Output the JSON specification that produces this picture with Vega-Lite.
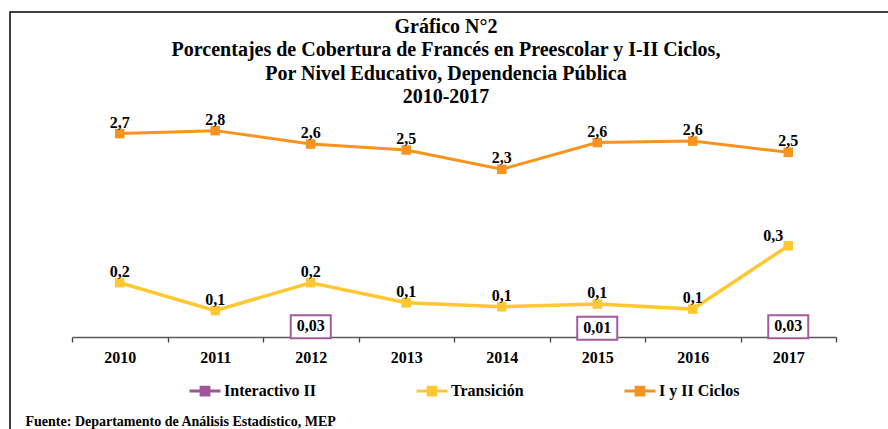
{
  "$schema": "https://vega.github.io/schema/vega-lite/v6.json",
  "autosize": "none",
  "width": 879,
  "height": 418,
  "padding": {"left": 10, "top": 12, "right": 0, "bottom": 0},
  "background": "white",
  "title": {
    "text": ["Gráfico N°2", "Porcentajes de Cobertura de Francés en Preescolar y I-II  Ciclos,", "Por Nivel Educativo, Dependencia Pública", "2010-2017"],
    "anchor": "middle",
    "frame": "group",
    "offset": -95,
    "dx": -3.5,
    "font": "Liberation Serif",
    "fontSize": 20,
    "fontWeight": "bold",
    "lineHeight": 23.3,
    "color": "black"
  },
  "data": {
    "values": [
      {"year": 2010, "serie": "I y II Ciclos", "value": 2.73},
      {"year": 2011, "serie": "I y II Ciclos", "value": 2.77},
      {"year": 2012, "serie": "I y II Ciclos", "value": 2.59},
      {"year": 2013, "serie": "I y II Ciclos", "value": 2.51},
      {"year": 2014, "serie": "I y II Ciclos", "value": 2.251},
      {"year": 2015, "serie": "I y II Ciclos", "value": 2.61},
      {"year": 2016, "serie": "I y II Ciclos", "value": 2.63},
      {"year": 2017, "serie": "I y II Ciclos", "value": 2.48},
      {"year": 2010, "serie": "Transición", "value": 0.181},
      {"year": 2011, "serie": "Transición", "value": 0.088},
      {"year": 2012, "serie": "Transición", "value": 0.181},
      {"year": 2013, "serie": "Transición", "value": 0.114},
      {"year": 2014, "serie": "Transición", "value": 0.101},
      {"year": 2015, "serie": "Transición", "value": 0.11},
      {"year": 2016, "serie": "Transición", "value": 0.093},
      {"year": 2017, "serie": "Transición", "value": 0.304},
      {"year": 2012, "serie": "Interactivo II", "value": 0.03},
      {"year": 2015, "serie": "Interactivo II", "value": 0.01},
      {"year": 2017, "serie": "Interactivo II", "value": 0.03}
    ]
  },
  "encoding": {
    "x": {
      "field": "year",
      "type": "ordinal",
      "scale": {"type": "band", "range": [62, 826], "paddingInner": 0, "paddingOuter": 0},
      "axis": {
        "title": "Fuente: Departamento de Análisis Estadístico, MEP",
        "titleX": 15,
        "titleY": 88,
        "titleAlign": "left",
        "titleAnchor": "start",
        "titleBaseline": "alphabetic",
        "titleFont": "Liberation Serif",
        "titleFontSize": 14,
        "titleFontWeight": "bold",
        "titleColor": "black",
        "labelAngle": 0,
        "labelFont": "Liberation Serif",
        "labelFontSize": 16,
        "labelFontWeight": "bold",
        "labelColor": "black",
        "labelPadding": 7,
        "tickBand": "extent",
        "tickSize": 5,
        "tickColor": "#404040",
        "tickWidth": 1.3,
        "domainColor": "#595959",
        "domainWidth": 1.5,
        "offset": -93,
        "grid": false,
        "encode": {"ticks": {"update": {"y": {"value": -5}, "y2": {"value": 5}}}}
      }
    }
  },
  "layer": [
    {
      "transform": [{"filter": "datum.serie === 'I y II Ciclos'"}],
      "encoding": {
        "y": {"field": "value", "type": "quantitative", "scale": {"domain": [0, 3], "range": [325, 101.5]}, "axis": null}
      },
      "layer": [
        {
          "mark": {"type": "line", "strokeWidth": 3, "point": {"shape": "square", "size": 90, "filled": true, "opacity": 1}},
          "encoding": {
            "color": {
              "field": "serie",
              "type": "nominal",
              "scale": {"domain": ["Interactivo II", "Transición", "I y II Ciclos"], "range": ["#A0559B", "#FFC832", "#F7931E"]},
              "legend": {
                "orient": "none",
                "legendX": 178,
                "legendY": 362,
                "direction": "horizontal",
                "columns": 3,
                "title": null,
                "symbolType": "M-1,0H1M-0.25,-0.25H0.25V0.25H-0.25Z",
                "symbolSize": 961,
                "symbolStrokeWidth": 3,
                "symbolOffset": 0,
                "labelOffset": 2,
                "columnPadding": 94,
                "labelFont": "Liberation Serif",
                "labelFontSize": 16,
                "labelFontWeight": "bold",
                "labelColor": "black",
                "padding": 0,
                "encode": {"symbols": {"update": {"fill": {"scale": "color", "field": "value"}, "stroke": {"scale": "color", "field": "value"}, "opacity": {"value": 1}}}}
              }
            }
          }
        },
        {
          "mark": {"type": "text", "dy": -6, "baseline": "alphabetic", "font": "Liberation Serif", "fontSize": 16, "fontWeight": "bold", "color": "black"},
          "encoding": {"text": {"field": "value", "type": "quantitative", "format": ".1f"}}
        }
      ]
    },
    {
      "transform": [{"filter": "datum.serie === 'Transición'"}],
      "encoding": {
        "y": {"field": "value", "type": "quantitative", "scale": {"domain": [0, 1], "range": [325, 25]}, "axis": null}
      },
      "layer": [
        {
          "mark": {"type": "line", "strokeWidth": 3.5, "point": {"shape": "square", "size": 90, "filled": true, "opacity": 1}},
          "encoding": {"color": {"field": "serie", "type": "nominal"}}
        },
        {
          "transform": [{"filter": "datum.year != 2017"}],
          "mark": {"type": "text", "dy": -6, "baseline": "alphabetic", "font": "Liberation Serif", "fontSize": 16, "fontWeight": "bold", "color": "black"},
          "encoding": {"text": {"field": "value", "type": "quantitative", "format": ".1f"}}
        },
        {
          "transform": [{"filter": "datum.year == 2017"}],
          "mark": {"type": "text", "dy": -5, "dx": -15, "baseline": "alphabetic", "font": "Liberation Serif", "fontSize": 16, "fontWeight": "bold", "color": "black"},
          "encoding": {"text": {"field": "value", "type": "quantitative", "format": ".1f"}}
        }
      ]
    },
    {
      "transform": [{"filter": "datum.serie === 'Interactivo II'"}],
      "encoding": {
        "y": {"field": "value", "type": "quantitative", "scale": {"domain": [0, 3], "range": [325, 101.5]}, "axis": null}
      },
      "layer": [
        {
          "mark": {"type": "point", "shape": "M-1.74,-1H1.74V1H-1.74Z", "size": 529, "filled": true, "fill": "white", "stroke": "#A35B9E", "strokeWidth": 2, "opacity": 1, "yOffset": -8}
        },
        {
          "mark": {"type": "text", "dy": -3.5, "baseline": "alphabetic", "font": "Liberation Serif", "fontSize": 16, "fontWeight": "bold", "color": "black"},
          "encoding": {"text": {"field": "value", "type": "quantitative", "format": ".2f"}}
        }
      ]
    }
  ],
  "resolve": {"scale": {"y": "independent"}},
  "config": {
    "locale": {"number": {"decimal": ",", "thousands": ".", "grouping": [3], "currency": ["", "€"]}},
    "view": {"stroke": "black", "strokeWidth": 1.5}
  }
}
